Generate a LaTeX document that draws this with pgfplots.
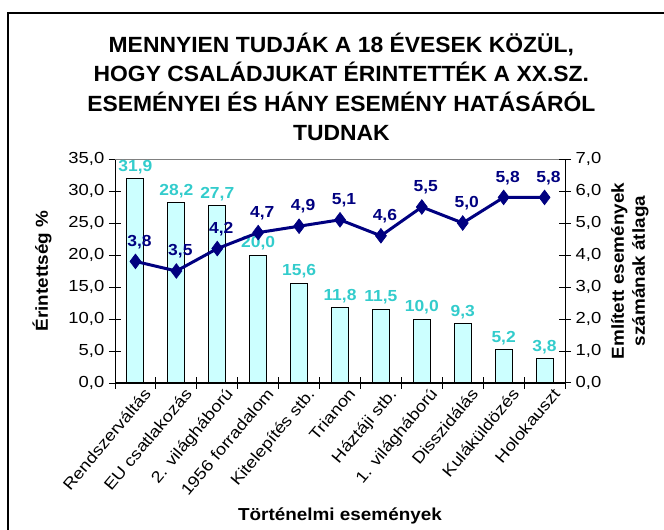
\documentclass[border=0pt]{standalone}
\usepackage{fontspec}
\setmainfont{Liberation Sans}
\newfontfamily\tickf[FakeStretch=1.15]{Liberation Sans}
\newfontfamily\labf[FakeStretch=1.09]{Liberation Sans}
\newfontfamily\titlef[FakeStretch=1.04]{Liberation Sans}
\usepackage{pgfplots}
\pgfplotsset{compat=1.18}
\definecolor{barfill}{HTML}{CCFFFF}
\definecolor{lbl}{HTML}{33CCCC}
\definecolor{navyc}{HTML}{000080}
\begin{document}
\begin{tikzpicture}
\useasboundingbox (0,0) rectangle (498pt,396.75pt);
\draw[line width=1.5pt] (6pt,-2pt) -- (6pt,387pt) -- (502pt,387pt);
\begin{scope}[every node/.style={anchor=base, font=\titlef\bfseries\fontsize{16.5}{20}\selectfont}]
\node at (256pt,357.5pt) {MENNYIEN TUDJÁK A 18 ÉVESEK KÖZÜL,};
\node at (256pt,335.3pt) {HOGY CSALÁDJUKAT ÉRINTETTÉK A XX.SZ.};
\node at (256pt,313.1pt) {ESEMÉNYEI ÉS HÁNY ESEMÉNY HATÁSÁRÓL};
\node at (256pt,291pt) {TUDNAK};
\end{scope}
\begin{axis}[
  at={(86.25pt,109.5pt)}, anchor=south west, scale only axis,
  width=337.5pt, height=168pt, clip=false,
  xmin=-0.5, xmax=10.5, ymin=0, ymax=35,
  ytick={0,5,...,35},
  axis x line*=bottom, axis y line*=left,
  axis line style={-, line width=0.75pt, black},
  tick align=center, major tick length=9pt,
  tick style={line width=0.75pt, black},
  xtick={0,...,10}, xtick style={draw=none},
  xticklabels={Rendszerváltás, EU csatlakozás, 2. világháború, 1956 forradalom, Kitelepítés stb., Trianon, Háztáji stb., 1. világháború, Disszidálás, Kuláküldözés, Holokauszt},
  xticklabel style={rotate=50, anchor=north east, inner sep=1pt, xshift=6pt, yshift=-2pt, font=\tickf\fontsize{12}{14}\selectfont},
  yticklabel style={font=\tickf\fontsize{12}{14}\selectfont, /pgf/number format/.cd, fixed, fixed zerofill, precision=1, use comma, assume math mode=true},
  ylabel={Érintettség \%},
  ylabel style={at={(axis description cs:-0.162,0.5)}, anchor=center, font=\labf\bfseries\fontsize{13}{15}\selectfont},
  xlabel={Történelmi események},
  xlabel style={at={(axis description cs:0.5,-0.594)}, anchor=center, font=\labf\bfseries\fontsize{13}{15}\selectfont},
]
\draw[gray, line width=0.75pt] (rel axis cs:0,1) -- (rel axis cs:1,1);
\addplot[ybar, bar width=12.75pt, fill=barfill, draw=black, line width=0.75pt,
  nodes near coords,
  nodes near coords style={font=\labf\bfseries\fontsize{12}{14}\selectfont, text=lbl, /pgf/number format/.cd, fixed, fixed zerofill, precision=1, use comma, assume math mode=true}]
coordinates {(0,31.9) (1,28.2) (2,27.7) (3,20.0) (4,15.6) (5,11.8) (6,11.5) (7,10.0) (8,9.3) (9,5.2) (10,3.8)};
\end{axis}
\begin{axis}[
  at={(86.25pt,109.5pt)}, anchor=south west, scale only axis,
  width=337.5pt, height=168pt, clip=false,
  xmin=-0.5, xmax=10.5, ymin=0, ymax=7,
  ytick={0,1,...,7},
  axis x line*=bottom, axis y line*=right,
  axis line style={-, line width=0.75pt, black},
  tick align=center, major tick length=9pt,
  tick style={line width=0.75pt, black},
  xtick={-0.5,0.5,...,10.5}, xticklabels={},
  yticklabel style={font=\tickf\fontsize{12}{14}\selectfont, /pgf/number format/.cd, fixed, fixed zerofill, precision=1, use comma, assume math mode=true},
  ylabel={Említett események\\számának átlaga},
  ylabel style={align=center, at={(axis description cs:1.144,0.5)}, anchor=center, font=\labf\bfseries\fontsize{13}{15.75}\selectfont},
]
\addplot[navyc, line width=2.25pt, mark=diamond*, mark size=5.5pt, mark options={solid, line width=0.5pt, fill=navyc},
  nodes near coords,
  nodes near coords style={font=\labf\bfseries\fontsize{12}{14}\selectfont, text=navyc, yshift=6pt, xshift=3pt, /pgf/number format/.cd, fixed, fixed zerofill, precision=1, use comma, assume math mode=true}]
coordinates {(0,3.8) (1,3.5) (2,4.2) (3,4.7) (4,4.9) (5,5.1) (6,4.6) (7,5.5) (8,5.0) (9,5.8) (10,5.8)};
\end{axis}
\end{tikzpicture}
\end{document}
